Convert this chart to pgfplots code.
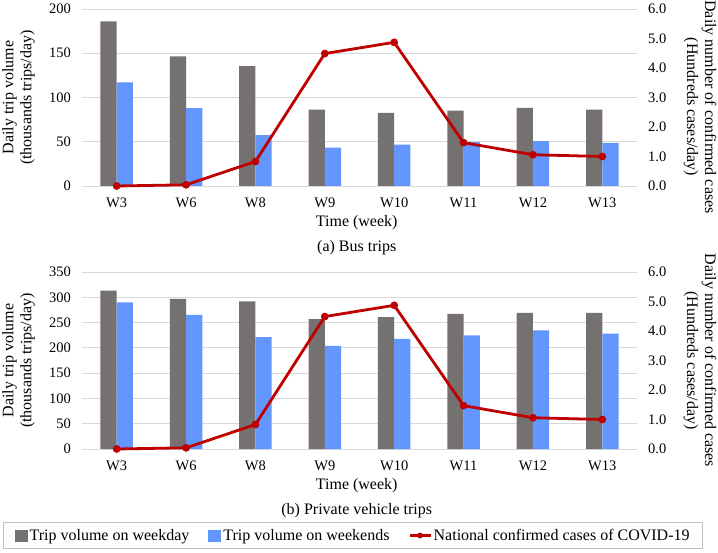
\documentclass[border=0pt]{standalone}
\usepackage{fontspec}
\setmainfont{Liberation Serif}
\usepackage{pgfplots}
\pgfplotsset{compat=1.18}
\definecolor{wkgray}{RGB}{118,113,113}
\definecolor{wkblue}{RGB}{100,150,255}
\definecolor{covred}{RGB}{190,0,0}
\definecolor{gridgray}{RGB}{217,217,217}
\definecolor{leggray}{RGB}{191,191,191}
\pgfplotsset{
  base/.style={
    scale only axis, width=555bp, height=177bp,
    xmin=-0.5, xmax=7.5, clip=false,
    xtick={0,...,7}, xticklabels={W3,W6,W8,W9,W10,W11,W12,W13},
    axis line style={draw=none},
    major tick length=0pt,
    tick style={draw=none},
    ticklabel style={font=\fontsize{14.5bp}{16bp}\selectfont},
    /pgf/number format/assume math mode=true,
    label style={font=\fontsize{16bp}{18bp}\selectfont, align=center},
  },
  leftax/.style={base, ymin=0,
    ymajorgrids, grid style={draw=gridgray, line width=0.9bp},
    xticklabel style={anchor=center, yshift=-17bp, inner sep=0pt},
    yticklabel style={anchor=east, inner sep=0pt, xshift=-11bp},
    xlabel={Time (week)},
    xlabel style={at={(axis description cs:0.495,-0.209)}, anchor=center},
    ylabel={Daily trip volume\\(thousands trips/day)},
    ylabel style={at={(axis description cs:-0.1144,0.5)}, anchor=center},
  },
  rightax/.style={base, ymin=0, ymax=6, ytick={0,1,...,6},
    axis x line=none, axis y line*=right,
    yticklabel style={anchor=west, inner sep=0pt, xshift=11bp,
      /pgf/number format/.cd, fixed, fixed zerofill, precision=1},
    ylabel={Daily number of confirmed cases\\(Hundreds cases/day)},
    ylabel style={at={(axis description cs:1.1135,0.5)}, anchor=center, rotate=180},
  },
  barlegend/.style={legend image code/.code={\fill[##1] (0bp,-6.5bp) rectangle (13bp,5.5bp);}},
  barA/.style={ybar, bar width=16.3bp, bar shift=-8.15bp, fill=wkgray, draw=none, barlegend},
  barB/.style={ybar, bar width=16.3bp, bar shift=8.15bp, fill=wkblue, draw=none, barlegend},
  covline/.style={color=covred, line width=2.8bp, mark=*, mark size=3.6bp,
    mark options={solid, fill=covred, line width=0.5bp}},
  covlegend/.style={color=covred, line width=2.2bp, mark=*, mark size=2.6bp,
    mark options={solid, fill=covred, line width=0.5bp},
    legend image code/.code={\draw[##1, mark repeat=2, mark phase=2] plot coordinates {(0bp,0bp) (10.5bp,0bp) (21bp,0bp)};}},
}
\pgfplotstableread{
x wkday wkend cases
0 186   117   0.0
1 146.5 88    0.04
2 135.5 57.4  0.83
3 86.4  43.4  4.49
4 82.6  46.8  4.87
5 85.3  49.8  1.47
6 88.3  50.6  1.06
7 86.4  48.7  1.00
}\bus
\pgfplotstableread{
x wkday wkend cases
0 313   290   0.0
1 297   265   0.04
2 292   221   0.83
3 257   204   4.49
4 261   218   4.87
5 267   224.6 1.47
6 269   234.5 1.06
7 269   228   1.00
}\priv
\begin{document}
\begin{tikzpicture}
\useasboundingbox (0,0) rectangle (718bp,553bp);
% ---------- (a) Bus trips ----------
\begin{axis}[leftax, at={(82bp,367bp)}, anchor=south west,
  ymax=200, ytick={0,50,...,200}]
  \addplot[barA] table[x=x, y=wkday] {\bus};
  \addplot[barB] table[x=x, y=wkend] {\bus};
  \node[font=\fontsize{16bp}{18bp}\selectfont] at (axis description cs:0.495,-0.350) {(a) Bus trips};
\end{axis}
\begin{axis}[rightax, at={(82bp,367bp)}, anchor=south west,
  ylabel style={at={(axis description cs:1.1135,0.446)}}]
  \addplot[covline] table[x=x, y=cases] {\bus};
\end{axis}
% ---------- (b) Private vehicle trips ----------
\begin{axis}[leftax, at={(82bp,104bp)}, anchor=south west,
  ymax=350, ytick={0,50,...,350},
  legend columns=3,
  legend style={at={(axis description cs:0.4885,-0.4107)}, anchor=north,
    draw=leggray, line width=0.8bp,
    font=\fontsize{16bp}{18bp}\selectfont,
    inner xsep=11bp, inner ysep=5bp,
    /tikz/every even column/.append style={column sep=17bp}},
  ]
  \addplot[barA] table[x=x, y=wkday] {\priv};
  \addlegendentry{Trip volume on weekday}
  \addplot[barB] table[x=x, y=wkend] {\priv};
  \addlegendentry{Trip volume on weekends}
  \addlegendimage{covlegend}
  \addlegendentry{National confirmed cases of COVID-19}
  \node[font=\fontsize{16bp}{18bp}\selectfont] at (axis description cs:0.495,-0.350) {(b) Private vehicle trips};
\end{axis}
\begin{axis}[rightax, at={(82bp,104bp)}, anchor=south west]
  \addplot[covline] table[x=x, y=cases] {\priv};
\end{axis}
\end{tikzpicture}
\end{document}
